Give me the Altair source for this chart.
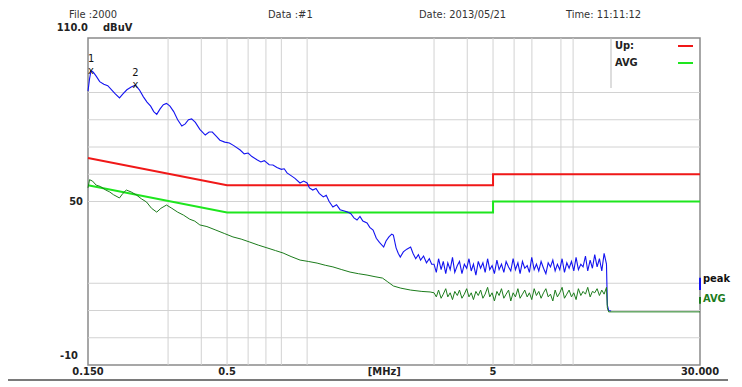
import altair as alt
import pandas as pd

# ---------------- data ----------------
peak_freq = [0.150, 0.152, 0.154, 0.157, 0.161, 0.166, 0.172, 0.178, 0.184, 0.190,
             0.197, 0.203, 0.210, 0.218, 0.226, 0.234, 0.242, 0.250, 0.258, 0.265,
             0.272, 0.280, 0.288, 0.296, 0.305, 0.315, 0.326, 0.338, 0.348, 0.358,
             0.368, 0.380, 0.395, 0.414, 0.428, 0.440, 0.455, 0.47, 0.49, 0.51,
             0.53, 0.56, 0.58, 0.60, 0.62, 0.65, 0.67, 0.69, 0.72, 0.744,
             0.77, 0.80, 0.82, 0.84, 0.87, 0.90, 0.94, 0.97, 1.00, 1.02,
             1.05, 1.08, 1.11, 1.15, 1.18, 1.21, 1.25, 1.29, 1.33, 1.38,
             1.42, 1.46, 1.50, 1.54, 1.58, 1.62, 1.68, 1.72, 1.77, 1.82,
             1.87, 1.94, 1.98, 2.03, 2.08, 2.11, 2.16, 2.20, 2.24, 2.30,
             2.37, 2.45, 2.50, 2.56, 2.62, 2.67, 2.74, 2.81, 2.88, 2.94]
peak_level = [90.5, 95, 98, 97.5, 96, 94, 93, 92.5, 91, 89.5,
              88, 89.5, 91, 92, 92.7, 91, 88.5, 86.5, 85, 83,
              82, 84, 85.5, 86, 85, 83, 80, 77.7, 78.5, 80,
              80.3, 79, 76.5, 74.4, 75.5, 75.5, 74, 72.5, 71.8, 71.5,
              70.5, 68.9, 67.5, 67.8, 66.5, 65.2, 64.5, 65, 63.5, 63.4,
              62.5, 61.8, 62, 60.5, 59.5, 58.5, 56.8, 57.5, 56.8, 55,
              54.2, 54.8, 53, 51.7, 52.3, 50, 48, 48.8, 47, 46.5,
              46.1, 45.5, 44, 43.2, 44.5, 42.8, 42.1, 40.5, 39.5, 36.5,
              35, 33.3, 35.5, 37, 38, 37.7, 33, 31, 29.6, 31.5,
              32.5, 33.3, 31, 29, 30.5, 28.5, 30, 27.5, 29, 27]

avg_freq = [0.150, 0.152, 0.156, 0.161, 0.167, 0.175, 0.181, 0.187, 0.197, 0.203,
            0.209, 0.218, 0.228, 0.238, 0.249, 0.260, 0.272, 0.282, 0.296, 0.310,
            0.326, 0.343, 0.362, 0.378, 0.395, 0.42, 0.454, 0.49, 0.526, 0.565,
            0.609, 0.655, 0.706, 0.76, 0.812, 0.87, 0.941, 1.01, 1.09, 1.17,
            1.25, 1.35, 1.45, 1.56, 1.68, 1.80, 1.92, 2.01, 2.11, 2.25,
            2.45, 2.70, 2.90]
avg_level = [55, 58, 57.5, 56, 55.5, 54.2, 53.5, 52.5, 51.3, 53,
             54.2, 53.5, 52.4, 51, 49.8, 47.5, 46.1, 47.5, 48.7, 47.5,
             46.1, 45, 43.5, 42.8, 41.4, 40.8, 39.5, 38.2, 37, 36.2,
             35.1, 34, 33, 32, 31.1, 29.8, 28.5, 28, 27.4, 26.6,
             26, 25, 24.1, 23.5, 23, 22.4, 21.9, 20.5, 19, 18.2,
             17.5, 17, 16.8]

# noise-floor part of the sweep (both detectors share these frequencies)
noise_freq = [3.00, 3.06, 3.12, 3.19, 3.25, 3.32, 3.38, 3.45, 3.52, 3.59,
              3.67, 3.74, 3.82, 3.90, 3.98, 4.06, 4.14, 4.22, 4.31, 4.40,
              4.49, 4.58, 4.67, 4.77, 4.86, 4.96, 5.06, 5.17, 5.27, 5.38,
              5.49, 5.60, 5.72, 5.83, 5.95, 6.07, 6.20, 6.32, 6.45, 6.58,
              6.72, 6.85, 6.99, 7.14, 7.28, 7.43, 7.58, 7.74, 7.90, 8.06,
              8.22, 8.39, 8.56, 8.73, 8.91, 9.09, 9.28, 9.47, 9.66, 9.86,
              10.06, 10.26, 10.47, 10.69, 10.90, 11.13, 11.35, 11.59, 11.82, 12.06,
              12.31, 12.56, 12.82, 13.08, 13.35]
peak_noise = [27, 24, 29, 25, 28, 23.5, 27.5, 25, 29.5, 24,
              26.5, 28, 23.5, 27, 25.5, 29, 24.5, 27, 23, 28,
              25.5, 27.5, 24, 29, 25, 26.5, 23.5, 28.5, 25, 27,
              24, 28, 26, 24.5, 29, 25, 27.5, 23.5, 28, 25.5,
              26.5, 24, 29.5, 25, 27, 24.5, 28, 25.5, 23.5, 27.5,
              26, 28.5, 24.5, 27, 25, 29, 24, 27.5, 25.5, 28,
              24.5, 29.5, 25, 27, 26, 30, 24.5, 28.5, 25.5, 30.5,
              26, 29, 24.5, 31, 27]
avg_noise = [16.5, 15, 17.5, 14.5, 16, 18, 15, 16.5, 14, 17,
             15.5, 17.5, 14.5, 16, 18, 15, 16.5, 14, 17, 15.5,
             17.5, 14.5, 16, 18.5, 15, 16.5, 13.5, 17, 15.5, 18,
             14.5, 16, 17.5, 13.5, 16.5, 15, 18, 14.5, 16, 17.5,
             15, 16.5, 14, 18, 15.5, 17, 14.5, 16.5, 18, 15,
             16, 13.5, 17.5, 15, 16.5, 18.5, 14.5, 16, 17.5, 15,
             16.5, 14, 18, 15.5, 17, 16, 18.5, 15, 17, 16.5,
             18, 15.5, 17.5, 16, 18.5]

peak_tail_freq = [13.45, 13.6, 13.9]
peak_tail = [12, 10, 9.8]
avg_tail_freq = [13.45, 13.6, 30.0]
avg_tail = [11, 9.5, 9.5]

# limit lines (QP and AVG)
limit_freq = [0.15, 0.5, 5, 5, 30]
qp_limit = [66, 56, 56, 60, 60]
avg_limit = [56, 46, 46, 50, 50]

# grid
vgrid_freq = [0.3, 0.4, 0.5, 0.6, 0.7, 0.8, 1, 3, 4, 5, 6, 7, 9, 10]
hgrid_level = [90, 80, 70, 60, 50, 20, 10, 0]

# markers
marker_label = ["1", "2"]
marker_freq = [0.154, 0.226]
marker_level = [98, 92.7]

# axis labels
xtick_freq = [0.15, 0.5, 5, 30]
xtick_text = ["0.150", "0.5", "5", "30.000"]

# ---------------- chart ----------------
W, H = 612, 327
FONT = "'Liberation Sans Narrow', 'DejaVu Sans Condensed', 'Liberation Sans', sans-serif"
xs = alt.Scale(type="log", domain=[0.15, 30], nice=False)
ys = alt.Scale(domain=[-10, 110], nice=False, zero=False)
X = lambda f="f": alt.X(f"{f}:Q", scale=xs, axis=None)
Y = lambda f="v": alt.Y(f"{f}:Q", scale=ys, axis=None)

peak_df = pd.DataFrame({"f": peak_freq + noise_freq + peak_tail_freq,
                        "v": peak_level + peak_noise + peak_tail})
avg_df = pd.DataFrame({"f": avg_freq + noise_freq + avg_tail_freq,
                       "v": avg_level + avg_noise + avg_tail})
lim_df = pd.DataFrame({"f": limit_freq, "qp": qp_limit, "av": avg_limit,
                       "i": list(range(len(limit_freq)))})

vgrid = alt.Chart(pd.DataFrame({"f": vgrid_freq})).mark_rule(
    color="#d2d2d2", strokeWidth=1).encode(x=X())
hgrid = alt.Chart(pd.DataFrame({"v": hgrid_level})).mark_rule(
    color="#d2d2d2", strokeWidth=1).encode(y=Y())

qp_line = alt.Chart(lim_df).mark_line(color="#f01818", strokeWidth=2).encode(
    x=X(), y=Y("qp"), order="i:Q")
av_line = alt.Chart(lim_df).mark_line(color="#1ee61e", strokeWidth=2).encode(
    x=X(), y=Y("av"), order="i:Q")

peak_line = alt.Chart(peak_df).mark_line(color="#1414f0", strokeWidth=1.1).encode(
    x=X(), y=Y())
avg_line = alt.Chart(avg_df).mark_line(color="#1c7c1c", strokeWidth=1).encode(
    x=X(), y=Y())

mk_df = pd.DataFrame({"f": marker_freq, "v": marker_level, "t": marker_label})
mk_x = alt.Chart(mk_df).mark_text(text="x", font=FONT, fontSize=11, color="#111",
                                  baseline="middle").encode(x=X(), y=Y())
mk_t = alt.Chart(mk_df).mark_text(font=FONT, fontSize=11, color="#111", dy=-12,
                                  baseline="middle").encode(x=X(), y=Y(), text="t:N")

LBL = dict(font=FONT, fontSize=11, fontWeight="bold", color="#222", baseline="middle")

xl_df = pd.DataFrame({"f": xtick_freq, "t": xtick_text})
x_labels = alt.Chart(xl_df).mark_text(**LBL).encode(
    x=X(), y=alt.value(H + 7), text="t:N")
mhz = alt.Chart(pd.DataFrame({"f": [1.95], "t": ["[MHz]"]})).mark_text(**LBL).encode(
    x=X(), y=alt.value(H + 7), text="t:N")

y50 = alt.Chart(pd.DataFrame({"v": [50], "t": ["50"]})).mark_text(
    align="right", **LBL).encode(x=alt.value(-5), y=Y(), text="t:N")
ym10 = alt.Chart(pd.DataFrame({"v": [-10], "t": ["-10"]})).mark_text(
    align="right", dy=-9, **LBL).encode(x=alt.value(-10), y=Y(), text="t:N")
ytop = alt.Chart(pd.DataFrame({"v": [110], "t": ["110.0"]})).mark_text(
    align="right", dy=-10, **LBL).encode(x=alt.value(0), y=Y(), text="t:N")
yunit = alt.Chart(pd.DataFrame({"v": [110], "t": ["dBuV"]})).mark_text(
    align="left", dy=-10, **LBL).encode(x=alt.value(15), y=Y(), text="t:N")

headers = []
for txt, px in [("File :2000", -19), ("Data :#1", 180), ("Date: 2013/05/21", 331),
                ("Time: 11:11:12", 478)]:
    headers.append(alt.Chart(pd.DataFrame({"t": [txt]})).mark_text(
        font=FONT, fontSize=11, color="#333", align="left", baseline="top").encode(
        x=alt.value(px), y=alt.value(-29), text="t:N"))

# legend in the top right corner
leg_box = alt.Chart(pd.DataFrame({"v": [0]})).mark_rule(color="#bbbbbb").encode(
    x=alt.value(523), y=alt.value(0), y2=alt.value(50))
leg_up = alt.Chart(pd.DataFrame({"t": ["Up:"]})).mark_text(
    align="left", **LBL).encode(x=alt.value(527), y=alt.value(8), text="t:N")
leg_avg = alt.Chart(pd.DataFrame({"t": ["AVG"]})).mark_text(
    align="left", **LBL).encode(x=alt.value(527), y=alt.value(25), text="t:N")
leg_red = alt.Chart(pd.DataFrame({"v": [0]})).mark_rule(color="#f01818", strokeWidth=2).encode(
    x=alt.value(590), x2=alt.value(605), y=alt.value(8))
leg_green = alt.Chart(pd.DataFrame({"v": [0]})).mark_rule(color="#1ee61e", strokeWidth=2).encode(
    x=alt.value(590), x2=alt.value(605), y=alt.value(25))

# right-hand trace labels
side_df = pd.DataFrame({"v": [21.6, 14.2], "t": ["peak", "AVG"], "c": ["#111111", "#1c7c1c"]})
side = alt.Chart(side_df).mark_text(font=FONT, fontSize=11, fontWeight="bold",
                                    align="left", baseline="middle").encode(
    x=alt.value(W + 3), y=Y(), text="t:N", color=alt.Color("c:N", scale=None))
side_peak = alt.Chart(pd.DataFrame({"v": [22], "v2": [17.5]})).mark_rule(
    color="#1414f0", strokeWidth=2).encode(x=alt.value(W), y=Y(), y2="v2:Q")
side_avg = alt.Chart(pd.DataFrame({"v": [15], "v2": [12.5]})).mark_rule(
    color="#1c7c1c", strokeWidth=2).encode(x=alt.value(W), y=Y(), y2="v2:Q")

bottom_rule = alt.Chart(pd.DataFrame({"v": [0]})).mark_rule(
    color="#7a7a7a", strokeWidth=2).encode(x=alt.value(-80), x2=alt.value(640),
                                           y=alt.value(342))

chart = alt.layer(
    vgrid, hgrid, qp_line, av_line, peak_line, avg_line, mk_x, mk_t,
    x_labels, mhz, y50, ym10, ytop, yunit, *headers,
    leg_box, leg_up, leg_avg, leg_red, leg_green, side, side_peak, side_avg, bottom_rule
).properties(
    width=W, height=H,
    autosize=alt.AutoSizeParams(type="none"),
    padding={"left": 80, "top": 30, "right": 34, "bottom": 18},
).configure_view(stroke="#8a8a8a", strokeWidth=1.5)

chart.save("out.html", embed_options={"renderer": "svg", "actions": False})
